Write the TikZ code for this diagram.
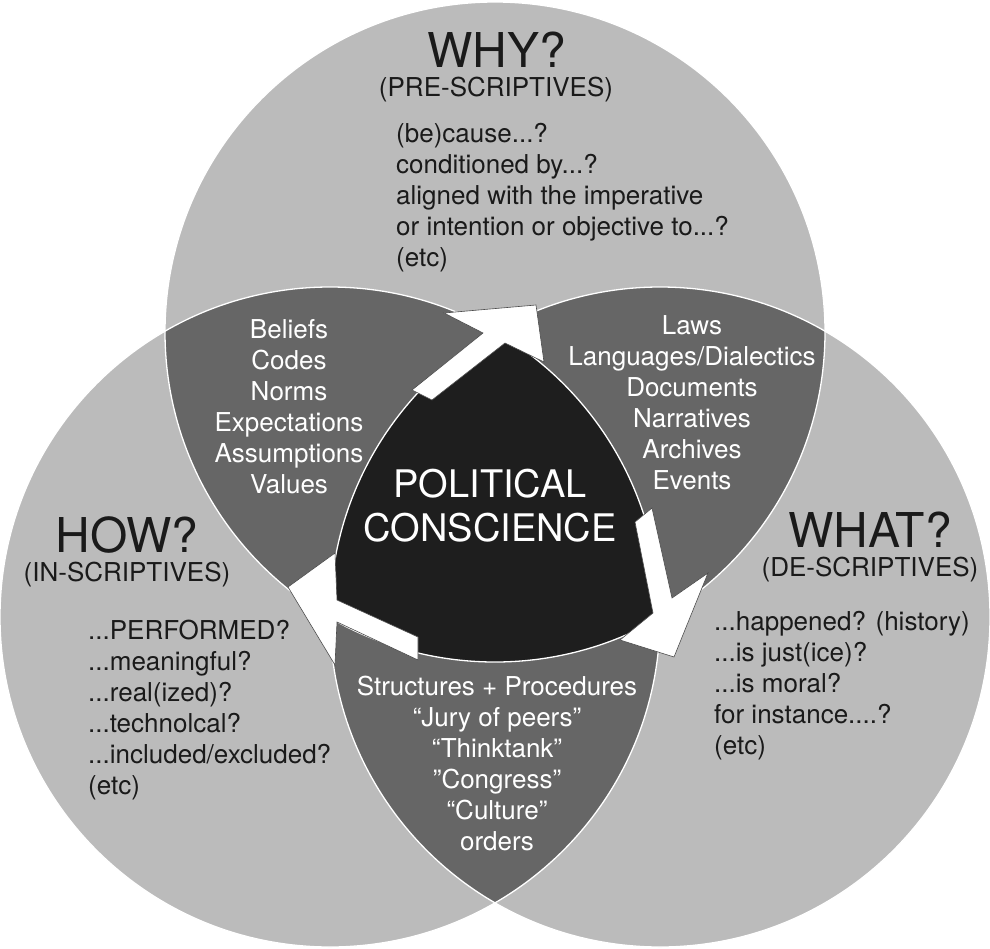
\documentclass[tikz,border=0pt]{standalone}
\usepackage{fontspec}
\setmainfont{TeX Gyre Heros}
\definecolor{lightg}{HTML}{BBBBBB}
\definecolor{darkg}{HTML}{666666}
\definecolor{coreg}{HTML}{1E1E1E}
\definecolor{inkg}{HTML}{1A1A1A}
\tikzset{
  big/.style={font=\fontsize{48}{52}\selectfont, text=inkg, inner sep=0pt},
  sub/.style={font=\fontsize{26}{30}\selectfont, text=inkg, inner sep=0pt},
  darklist/.style={font=\fontsize{26}{31}\selectfont, text=inkg, align=left, anchor=west, inner sep=0pt},
  whitelist/.style={font=\fontsize{26}{31}\selectfont, text=white, align=center, inner sep=0pt},
  core/.style={font=\fontsize{38}{44}\selectfont, text=white, align=center, inner sep=0pt},
  bigarrow/.style={fill=white, draw=black!70, line width=0.6pt, line join=miter},
  rim/.style={draw=white, line width=1.3pt}
}
\begin{document}
\begin{tikzpicture}[x=1pt,y=-1pt]
\useasboundingbox (0,0) rectangle (990,948);
\coordinate (T) at (495,332);
\coordinate (L) at (330,617);
\coordinate (R) at (660,617);
% base circles
\fill[lightg] (T) circle[radius=330pt];
\fill[lightg] (L) circle[radius=330pt];
\fill[lightg] (R) circle[radius=330pt];
% pairwise overlaps
\begin{scope}
  \clip (T) circle[radius=330pt];
  \fill[darkg] (L) circle[radius=330pt];
  \fill[darkg] (R) circle[radius=330pt];
\end{scope}
\begin{scope}
  \clip (L) circle[radius=330pt];
  \fill[darkg] (R) circle[radius=330pt];
\end{scope}
% triple overlap
\begin{scope}
  \clip (T) circle[radius=330pt];
  \clip (L) circle[radius=330pt];
  \fill[coreg] (R) circle[radius=330pt];
\end{scope}
% rims
\draw[rim] (T) circle[radius=330pt];
\draw[rim] (L) circle[radius=330pt];
\draw[rim] (R) circle[radius=330pt];
% arrows
\draw[bigarrow] (412,390) -- (483,333) -- (444,313) -- (536,305) -- (544,362) -- (505,343) -- (432,400) -- cycle;
\draw[bigarrow] (635,522) -- (652,508) -- (672,598) -- (708,573) -- (674,657) -- (620,640) -- (653,613) -- cycle;
\draw[bigarrow] (288,587) -- (335,553) -- (337,600) -- (418,637) -- (418,660) -- (337,622) -- (335,665) -- cycle;
% texts
\node[big] (why) at (497,50) {WHY?};
\node[sub] (whysub) at (496,90) {(PRE-SCRIPTIVES)};
\node[darklist] (whylist) at (396,198) {(be)cause...?\\conditioned by...?\\aligned with the imperative\\or intention or objective to...?\\(etc)};
\node[whitelist] (beliefs) at (289,407) {Beliefs\\Codes\\Norms\\Expectations\\Assumptions\\Values};
\node[whitelist] (laws) at (692,403) {Laws\\Languages/Dialectics\\Documents\\Narratives\\Archives\\Events};
\node[core] (pc) at (490,506) {POLITICAL\\CONSCIENCE};
\node[big] (how) at (127,535) {HOW?};
\node[sub] (howsub) at (127,575) {(IN-SCRIPTIVES)};
\node[darklist] (howlist) at (88,710) {...PERFORMED?\\...meaningful?\\...real(ized)?\\...technolcal?\\...included/excluded?\\(etc)};
\node[big] (what) at (870,530) {WHAT?};
\node[sub] (whatsub) at (870,570) {(DE-SCRIPTIVES)};
\node[darklist] (whatlist) at (714,686) {...happened? (history)\\...is just(ice)?\\...is moral?\\for instance....?\\(etc)};
\node[whitelist] (struct) at (497,763) {Structures + Procedures\\“Jury of peers”\\“Thinktank”\\”Congress”\\“Culture”\\orders};
\end{tikzpicture}
\end{document}
